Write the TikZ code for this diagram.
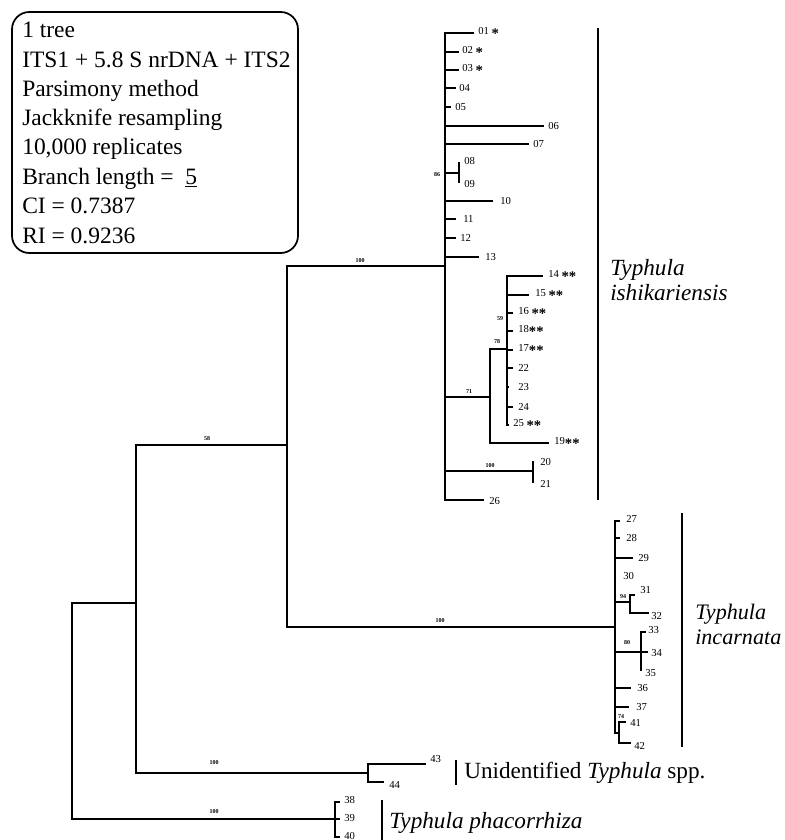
\documentclass[tikz,border=0pt]{standalone}
\usepackage{fontspec}
\setmainfont{Liberation Serif}
\newcommand\stz{\raisebox{-0.75ex}{\fontsize{11}{11}\selectfont\bfseries *}}
\begin{document}
\begin{tikzpicture}[x=0.75pt,y=-0.75pt,
  br/.style={line width=1.4pt,line cap=rect},
  cbar/.style={line width=1.5pt},
  leaf/.style={anchor=west,inner sep=0pt,font=\fontsize{8}{9}\selectfont},
  boot/.style={inner sep=0pt,font=\fontsize{4.5}{5}\selectfont\bfseries},
  boxt/.style={anchor=base west,inner sep=0pt,font=\fontsize{17.6}{20}\selectfont},
  sp/.style={anchor=west,inner sep=0pt,font=\fontsize{17.4}{20}\selectfont}]
\useasboundingbox (0,0) rectangle (785,840);
% info box
\draw[line width=1.3pt,rounded corners=13pt] (12,12) rectangle (298,253);
\node[boxt] (b1) at (22,37) {1 tree};
\node[boxt] (b2) at (22,67) {ITS1 + 5.8 S nrDNA + ITS2};
\node[boxt] (b3) at (22,96) {Parsimony method};
\node[boxt] (b4) at (22,125) {Jackknife resampling};
\node[boxt] (b5) at (22,154) {10,000 replicates};
\node[boxt] (b6) at (22,184) {Branch length = \ \underline{5}};
\node[boxt] (b7) at (22,213) {CI = 0.7387};
\node[boxt] (b8) at (22,243) {RI = 0.9236};
% internal nodes
\coordinate (R) at (72,711);
\coordinate (N1) at (136,603);
\coordinate (N2) at (287,445);
\coordinate (I) at (445,266);
\coordinate (C) at (615,627);
\coordinate (U) at (368,773);
\coordinate (P) at (335,819);
\coordinate (n89) at (459,173);
\coordinate (A) at (490,397);
\coordinate (B) at (507,349);
\coordinate (n2021) at (533,471);
\coordinate (n3132) at (630,602);
\coordinate (n3335) at (641,652);
\coordinate (n4142) at (619,733);
\draw[br] (R) |- (N1);
\draw[br] (R) |- (P);
\draw[br] (N1) |- (N2);
\draw[br] (N1) |- (U);
\draw[br] (N2) |- (I);
\draw[br] (N2) |- (C);
\draw[br] (I) |- (n89);
\draw[br] (I) |- (A);
\draw[br] (A) |- (B);
\draw[br] (I) |- (n2021);
\draw[br] (C) |- (n3132);
\draw[br] (C) |- (n3335);
\draw[br] (C) |- (n4142);
% leaves: name/y/xend/labelx/labely/text
\foreach \nm/\y/\x/\lx/\ly/\lab in {01/33/473/478/33/{01 \stz},02/52/458/462/52/{02 \stz},03/70/458/462/70/{03 \stz},04/88/455/459/88/{04},05/107/450/455/107/{05},06/126/543/548/126/{06},07/144/528/533/144/{07},10/201/492/500/201/{10},11/219/455/463/219/{11},12/238/455/460/238/{12},13/257/478/485/257/{13},20/462/533/540/462/{20},21/482/533/540/484/{21},26/500/483/489/501/{26},08/163/459/464/161/{08},09/182/459/464/184/{09}}{
  \coordinate (l\nm) at (\x,\y);
  \node[leaf] (t\nm) at (\lx,\ly) {\lab};
}
\foreach \nm in {01,02,03,04,05,06,07,10,11,12,13,26}{\draw[br] (I) |- (l\nm);}
\draw[br] (n89) |- (l08); \draw[br] (n89) |- (l09);
\draw[br] (n2021) |- (l20); \draw[br] (n2021) |- (l21);
\foreach \nm/\y/\x/\lx/\ly/\lab in {14/276/542/548/276/{14 \stz\stz},15/295/528/535/295/{15 \stz\stz},16/313/512/518/313/{16 \stz\stz},18/331/512/518/331/{18\stz\stz},17/350/512/518/350/{17\stz\stz},22/368/512/518/368/{22},23/387/508/518/387/{23},24/407/512/518/407/{24},25/425/508/513/425/{25 \stz\stz}}{
  \coordinate (l\nm) at (\x,\y);
  \node[leaf] (t\nm) at (\lx,\ly) {\lab};
  \draw[br] (B) |- (l\nm);
}
\coordinate (l19) at (548,443);
\node[leaf] (t19) at (554,443) {19\stz\stz};
\draw[br] (A) |- (l19);
% incarnata
\foreach \nm/\y/\x/\lx/\ly/\lab in {27/521/619/626/519/{27},28/538/619/626/538/{28},29/558/632/638/558/{29},30/575/615/623/576/{30},36/688/630/637/688/{36},37/707/628/636/707/{37}}{
  \coordinate (l\nm) at (\x,\y);
  \node[leaf] (t\nm) at (\lx,\ly) {\lab};
  \draw[br] (C) |- (l\nm);
}
\foreach \pnode/\nm/\y/\x/\lx/\ly/\lab in {n3132/31/595/634/640/590/{31},n3132/32/613/648/651/616/{32},n3335/33/632/645/648/630/{33},n3335/34/652/647/651/653/{34},n3335/35/670/641/645/673/{35},n4142/41/722/625/630/723/{41},n4142/42/743/630/634/746/{42},U/43/764/425/430/759/{43},U/44/782/383/389/785/{44},P/38/802/339/344/800/{38},P/39/819/339/344/818/{39},P/40/837/339/344/836/{40}}{
  \coordinate (l\nm) at (\x,\y);
  \node[leaf] (t\nm) at (\lx,\ly) {\lab};
  \draw[br] (\pnode) |- (l\nm);
}
% support values
\node[boot] (s1) at (360,261) {100};
\node[boot] (s2) at (207,439) {58};
\node[boot] (s3) at (440,621) {100};
\node[boot] (s4) at (214,763) {100};
\node[boot] (s5) at (214,812) {100};
\node[boot] (s6) at (437,175) {86};
\node[boot] (s7) at (500,319) {59};
\node[boot] (s8) at (497,342) {78};
\node[boot] (s9) at (469,392) {71};
\node[boot] (s10) at (490,466) {100};
\node[boot] (s11) at (623,597) {94};
\node[boot] (s12) at (627,643) {80};
\node[boot] (s13) at (621,717) {74};
% clade bars
\draw[cbar] (598,28) -- (598,500);
\draw[cbar] (682,513) -- (682,747);
\draw[cbar] (456,760) -- (456,785);
\draw[cbar] (382,800) -- (382,840);
% clade names
\node[sp] (c1a) at (610,270) {\itshape Typhula};
\node[sp] (c1b) at (610,293) {\itshape ishikariensis};
\node[sp,font=\fontsize{16.6}{20}\selectfont] (c2a) at (695,614) {\itshape Typhula};
\node[sp,font=\fontsize{16.6}{20}\selectfont] (c2b) at (695,637) {\itshape incarnata};
\node[sp] (c3) at (464,773) {Unidentified \textit{Typhula} spp.};
\node[sp] (c4) at (389,823) {\itshape Typhula phacorrhiza};
\end{tikzpicture}
\end{document}
